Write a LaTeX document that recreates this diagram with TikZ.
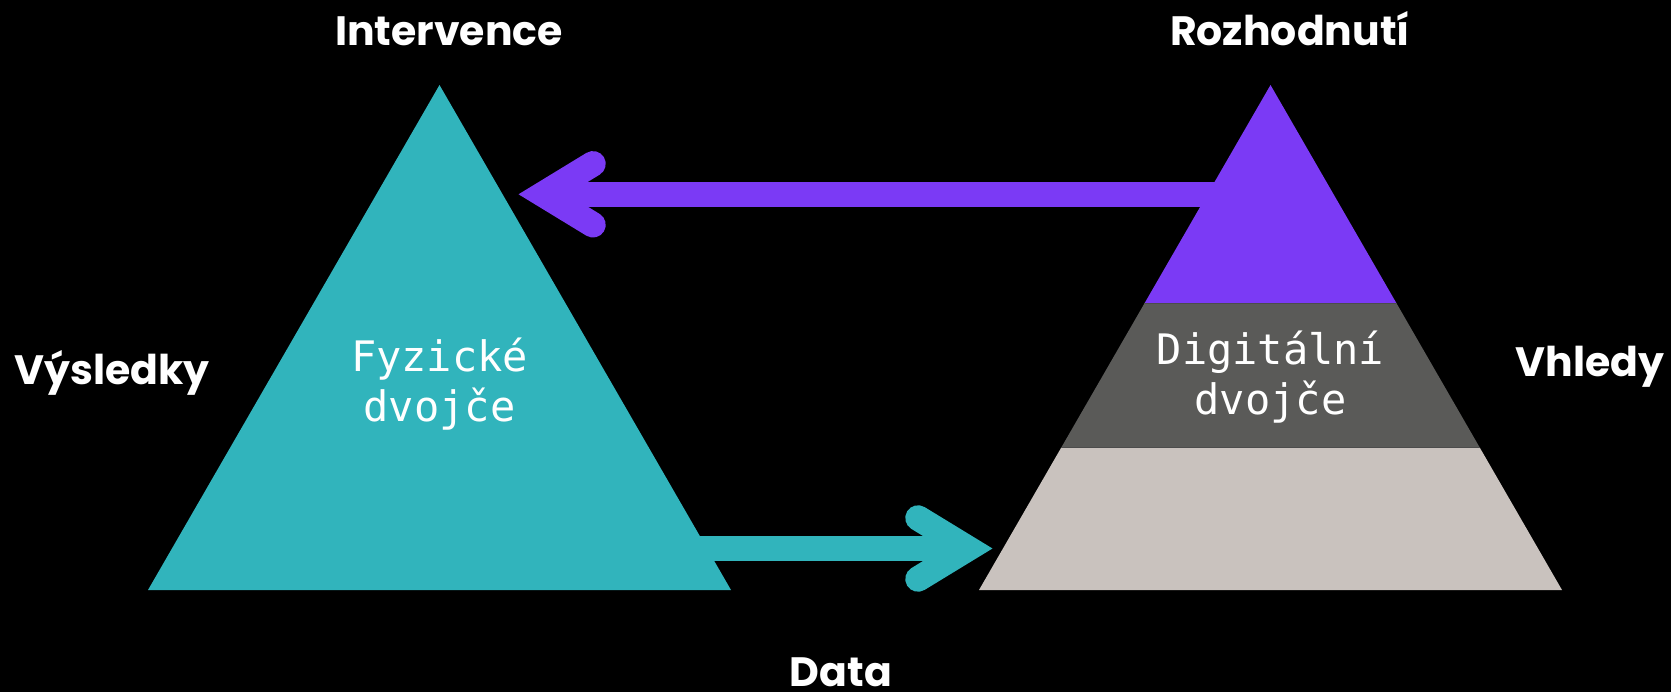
\documentclass[tikz,border=0pt]{standalone}
\usepackage{fontspec}
\setmainfont{Poppins}
\setmonofont{DejaVu Sans Mono}
\usetikzlibrary{positioning}
\definecolor{twinteal}{HTML}{31B4BC}
\definecolor{twinpurple}{HTML}{7B3AF5}
\definecolor{twingray}{HTML}{5A5A58}
\definecolor{twinsand}{HTML}{C9C2BE}

\begin{document}
\begin{tikzpicture}[x=1pt,y=-1pt,
    caption/.style={text=white,font=\fontsize{41}{48}\selectfont\bfseries,anchor=base,inner sep=0pt},
    twin/.style={text=white,font=\fontsize{42}{51}\selectfont\ttfamily,align=center,anchor=base,inner sep=0pt},
    flow/.style={line width=25.5pt,draw=#1},
    barb/.style={line width=25.5pt,draw=#1,line cap=round,line join=miter}]
  \fill[black] (0,0) rectangle (1671,692);

  \fill[twinteal] (439.5,85) -- (731,590) -- (148,590) -- cycle;
  \fill[twinpurple] (1270.5,85) -- (1396.9,304) -- (1144.1,304) -- cycle;
  \fill[twingray] (1144.1,304) -- (1396.9,304) -- (1480,448) -- (1061,448) -- cycle;
  \fill[twinsand] (1061,448) -- (1480,448) -- (1562,590) -- (979,590) -- cycle;
  \draw[black!70,line width=1pt] (1144.1,304) -- (1396.9,304);
  \draw[black!70,line width=1pt] (1061,448) -- (1480,448);

  \coordinate (physout) at (690,548.5);
  \coordinate (datatip) at (968,548.5);
  \coordinate (digiout) at (1235,194.3);
  \coordinate (inttip) at (543,194.3);

  \draw[flow=twinteal] (physout) -- (datatip);
  \draw[barb=twinteal] (918,518) -- (datatip) -- (918,579);
  \draw[flow=twinpurple] (digiout) -- (inttip);
  \draw[barb=twinpurple] (593,163.8) -- (inttip) -- (593,224.8);

  \node[twin] (phys) at (439.5,422) {Fyzické\\dvojče};
  \node[twin] (digi) at (1270.5,415) {Digitální\\dvojče};

  \node[caption] (intervence) at (449,46) {Intervence};
  \node[caption] (rozhodnuti) at (1290,46) {Rozhodnutí};
  \node[caption] (vysledky) at (112,385) {Výsledky};
  \node[caption] (vhledy) at (1590,377) {Vhledy};
  \node[caption] (data) at (841,686) {Data};
\end{tikzpicture}
\end{document}
